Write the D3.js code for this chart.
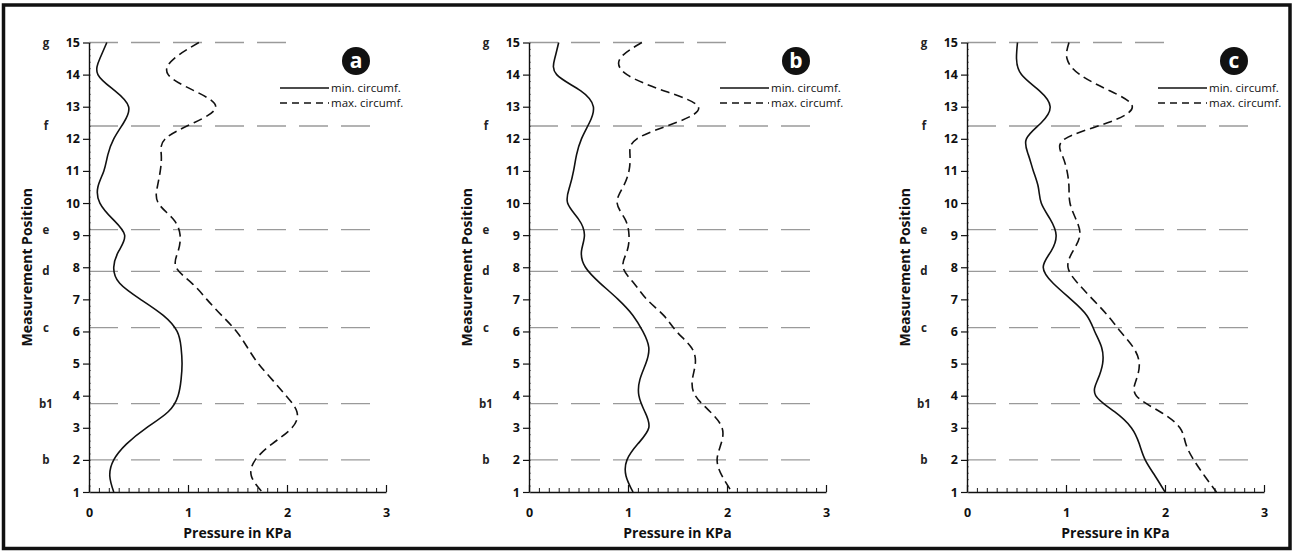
<!DOCTYPE html>
<html>
<head>
<meta charset="utf-8">
<script src="https://cdn.jsdelivr.net/npm/d3@7"></script>
<style>
  body { margin: 0; background: #fff; }
  svg { display: block; font-family: "Open Sans", "DejaVu Sans", sans-serif; }
</style>
</head>
<body>
<svg id="chart" width="1294" height="553"></svg>
<script>
// measurement positions along the leg (y axis), shared by every curve
var positions = [15, 14.5, 14, 13.5, 13, 12.5, 12, 11.5, 11, 10.5, 10, 9.5, 9, 8.5, 8,
                 7.5, 7, 6.5, 6, 5.5, 5, 4.5, 4, 3.5, 3, 2.5, 2, 1.5, 1];

// pressure in KPa, one value per position
var minA = [0.18, 0.11, 0.09, 0.26, 0.40, 0.35, 0.25, 0.19, 0.15, 0.09, 0.11, 0.24, 0.36, 0.30, 0.25,
            0.31, 0.52, 0.75, 0.89, 0.93, 0.94, 0.93, 0.90, 0.80, 0.58, 0.38, 0.25, 0.21, 0.25];
var maxA = [1.11, 0.86, 0.80, 1.06, 1.28, 1.06, 0.77, 0.73, 0.72, 0.69, 0.70, 0.85, 0.92, 0.90, 0.88,
            1.04, 1.19, 1.34, 1.49, 1.60, 1.71, 1.85, 1.99, 2.10, 2.05, 1.85, 1.68, 1.64, 1.75];
var minB = [0.30, 0.26, 0.28, 0.52, 0.65, 0.61, 0.53, 0.48, 0.45, 0.41, 0.39, 0.50, 0.56, 0.53, 0.57,
            0.72, 0.90, 1.05, 1.15, 1.21, 1.18, 1.12, 1.11, 1.17, 1.21, 1.10, 0.99, 0.98, 1.05];
var maxB = [1.14, 0.92, 0.99, 1.36, 1.71, 1.48, 1.09, 1.02, 1.01, 0.95, 0.89, 0.97, 1.01, 0.99, 0.95,
            1.06, 1.19, 1.36, 1.49, 1.64, 1.68, 1.65, 1.68, 1.83, 1.95, 1.94, 1.90, 1.95, 2.05];
var minC = [0.51, 0.50, 0.55, 0.73, 0.84, 0.75, 0.60, 0.62, 0.67, 0.72, 0.75, 0.84, 0.90, 0.85, 0.77,
            0.87, 1.05, 1.21, 1.29, 1.36, 1.37, 1.32, 1.30, 1.49, 1.66, 1.74, 1.80, 1.90, 2.00];
var maxC = [1.03, 1.01, 1.14, 1.44, 1.67, 1.42, 0.99, 0.96, 1.01, 1.03, 1.04, 1.10, 1.14, 1.07, 1.02,
            1.12, 1.27, 1.42, 1.55, 1.68, 1.74, 1.71, 1.71, 1.95, 2.15, 2.21, 2.29, 2.40, 2.52];

// anatomical landmarks drawn as dashed reference lines
var landmarks = ["g", "f", "e", "d", "c", "b1", "b"];
var landmarkPos = [15, 12.4, 9.17, 7.87, 6.12, 3.75, 2.0];
var landmarkEnd = [2.0, 2.87, 2.87, 2.87, 2.87, 2.87, 2.87];

var xTicks = [0, 1, 2, 3];
var yTicks = [1, 2, 3, 4, 5, 6, 7, 8, 9, 10, 11, 12, 13, 14, 15];
var panelLabels = ["a", "b", "c"];
var legendLabels = ["min. circumf.", "max. circumf."];

var svg = d3.select("#chart");

// outer frame round all three panels
svg.append("rect")
  .attr("x", 3.5).attr("y", 5)
  .attr("width", 1286.5).attr("height", 543.5)
  .attr("fill", "none")
  .attr("stroke", "#111")
  .attr("stroke-width", 3.5);

var panelLeft = [89, 529, 967];
var series = [[minA, maxA], [minB, maxB], [minC, maxC]];

var drawPanel = function(i) {
  var left = panelLeft[i];
  var g = svg.append("g").attr("class", "panel " + panelLabels[i]);

  var x = d3.scaleLinear().domain([0, 3]).range([left, left + 297]);
  var y = d3.scaleLinear().domain([1, 15]).range([492, 42.5]);

  // landmark reference lines
  g.selectAll("line.ref")
    .data(landmarkPos)
    .enter().append("line")
    .attr("class", "ref")
    .attr("x1", x(0))
    .attr("x2", function(d, j) { return x(landmarkEnd[j]); })
    .attr("y1", function(d) { return y(d); })
    .attr("y2", function(d) { return y(d); })
    .attr("stroke", "#9a9a9a")
    .attr("stroke-width", 1.3)
    .attr("stroke-dasharray", "29,13");

  g.selectAll("text.mark")
    .data(landmarks)
    .enter().append("text")
    .attr("class", "mark")
    .attr("x", left - 43)
    .attr("y", function(d, j) { return y(landmarkPos[j]) + 4; })
    .attr("text-anchor", "middle")
    .style("font-size", "11.5px")
    .style("font-weight", "bold")
    .attr("fill", "#222")
    .text(function(d) { return d; });

  // x axis, ticks pointing up into the plot
  g.append("g")
    .attr("transform", "translate(0," + y(1) + ")")
    .call(d3.axisBottom(x).tickValues(d3.range(0, 3.001, 0.1)).tickSize(-4).tickSizeOuter(0).tickFormat(""))
    .call(function(a) { a.select(".domain").remove(); a.selectAll("line").attr("stroke-width", 0.9); });
  var xa = g.append("g")
    .attr("transform", "translate(0," + y(1) + ")")
    .call(d3.axisBottom(x).tickValues(xTicks).tickSize(-7).tickSizeOuter(0).tickPadding(16).tickFormat(d3.format("d")));

  // y axis
  g.append("g")
    .attr("transform", "translate(" + x(0) + ",0)")
    .call(d3.axisRight(y).tickValues(d3.range(1, 15.001, 0.2)).tickSize(2).tickSizeOuter(0).tickFormat(""))
    .call(function(a) { a.select(".domain").remove(); a.selectAll("line").attr("stroke-width", 0.7).attr("stroke", "#555"); });
  var ya = g.append("g")
    .attr("transform", "translate(" + x(0) + ",0)")
    .call(d3.axisLeft(y).tickValues(yTicks).tickSize(6).tickSizeOuter(0).tickPadding(3));

  [xa, ya].forEach(function(a) {
    a.select(".domain").attr("stroke-width", 1.4).attr("stroke", "#111");
    a.selectAll(".tick line").attr("stroke-width", 1.2).attr("stroke", "#111");
    a.selectAll("text")
      .style("font-size", "12.5px")
      .style("font-weight", "bold")
      .style("font-family", "'Open Sans', sans-serif")
      .attr("fill", "#111");
  });

  // pressure curves, a natural spline through the read points
  var line = d3.line()
    .x(function(d) { return x(d[1]); })
    .y(function(d) { return y(d[0]); })
    .curve(d3.curveNatural);

  series[i].forEach(function(vals, k) {
    g.append("path")
      .datum(positions.map(function(p, j) { return [p, vals[j]]; }))
      .attr("d", line)
      .attr("fill", "none")
      .attr("stroke", "#111")
      .attr("stroke-width", 1.6)
      .attr("stroke-dasharray", k === 0 ? null : "9,5");
  });

  // axis titles
  g.append("text")
    .attr("x", x(1.5))
    .attr("y", 538)
    .attr("text-anchor", "middle")
    .style("font-size", "14px")
    .style("font-weight", "bold")
    .attr("fill", "#111")
    .text("Pressure in KPa");

  g.append("text")
    .attr("transform", "translate(" + (left - 57) + "," + y(8) + ") rotate(-90)")
    .attr("text-anchor", "middle")
    .style("font-size", "14px")
    .style("font-weight", "bold")
    .attr("fill", "#111")
    .text("Measurement Position");

  // legend
  legendLabels.forEach(function(lab, k) {
    var ly = 88 + k * 15;
    g.append("line")
      .attr("x1", left + 191).attr("x2", left + 240)
      .attr("y1", ly).attr("y2", ly)
      .attr("stroke", "#111")
      .attr("stroke-width", 1.4)
      .attr("stroke-dasharray", k === 0 ? null : "7,5");
    g.append("text")
      .attr("x", left + 242)
      .attr("y", ly + 4)
      .style("font-size", "11.5px")
      .attr("fill", "#111")
      .text(lab);
  });

  // panel badge
  g.append("circle")
    .attr("cx", left + 267).attr("cy", 61)
    .attr("r", 14)
    .attr("fill", "#111");
  g.append("text")
    .attr("x", left + 267).attr("y", 68)
    .attr("text-anchor", "middle")
    .style("font-size", "21px")
    .style("font-weight", "bold")
    .attr("fill", "#fff")
    .text(panelLabels[i]);
};

for (var i = 0; i < panelLabels.length; i++) drawPanel(i);
</script>
</body>
</html>
